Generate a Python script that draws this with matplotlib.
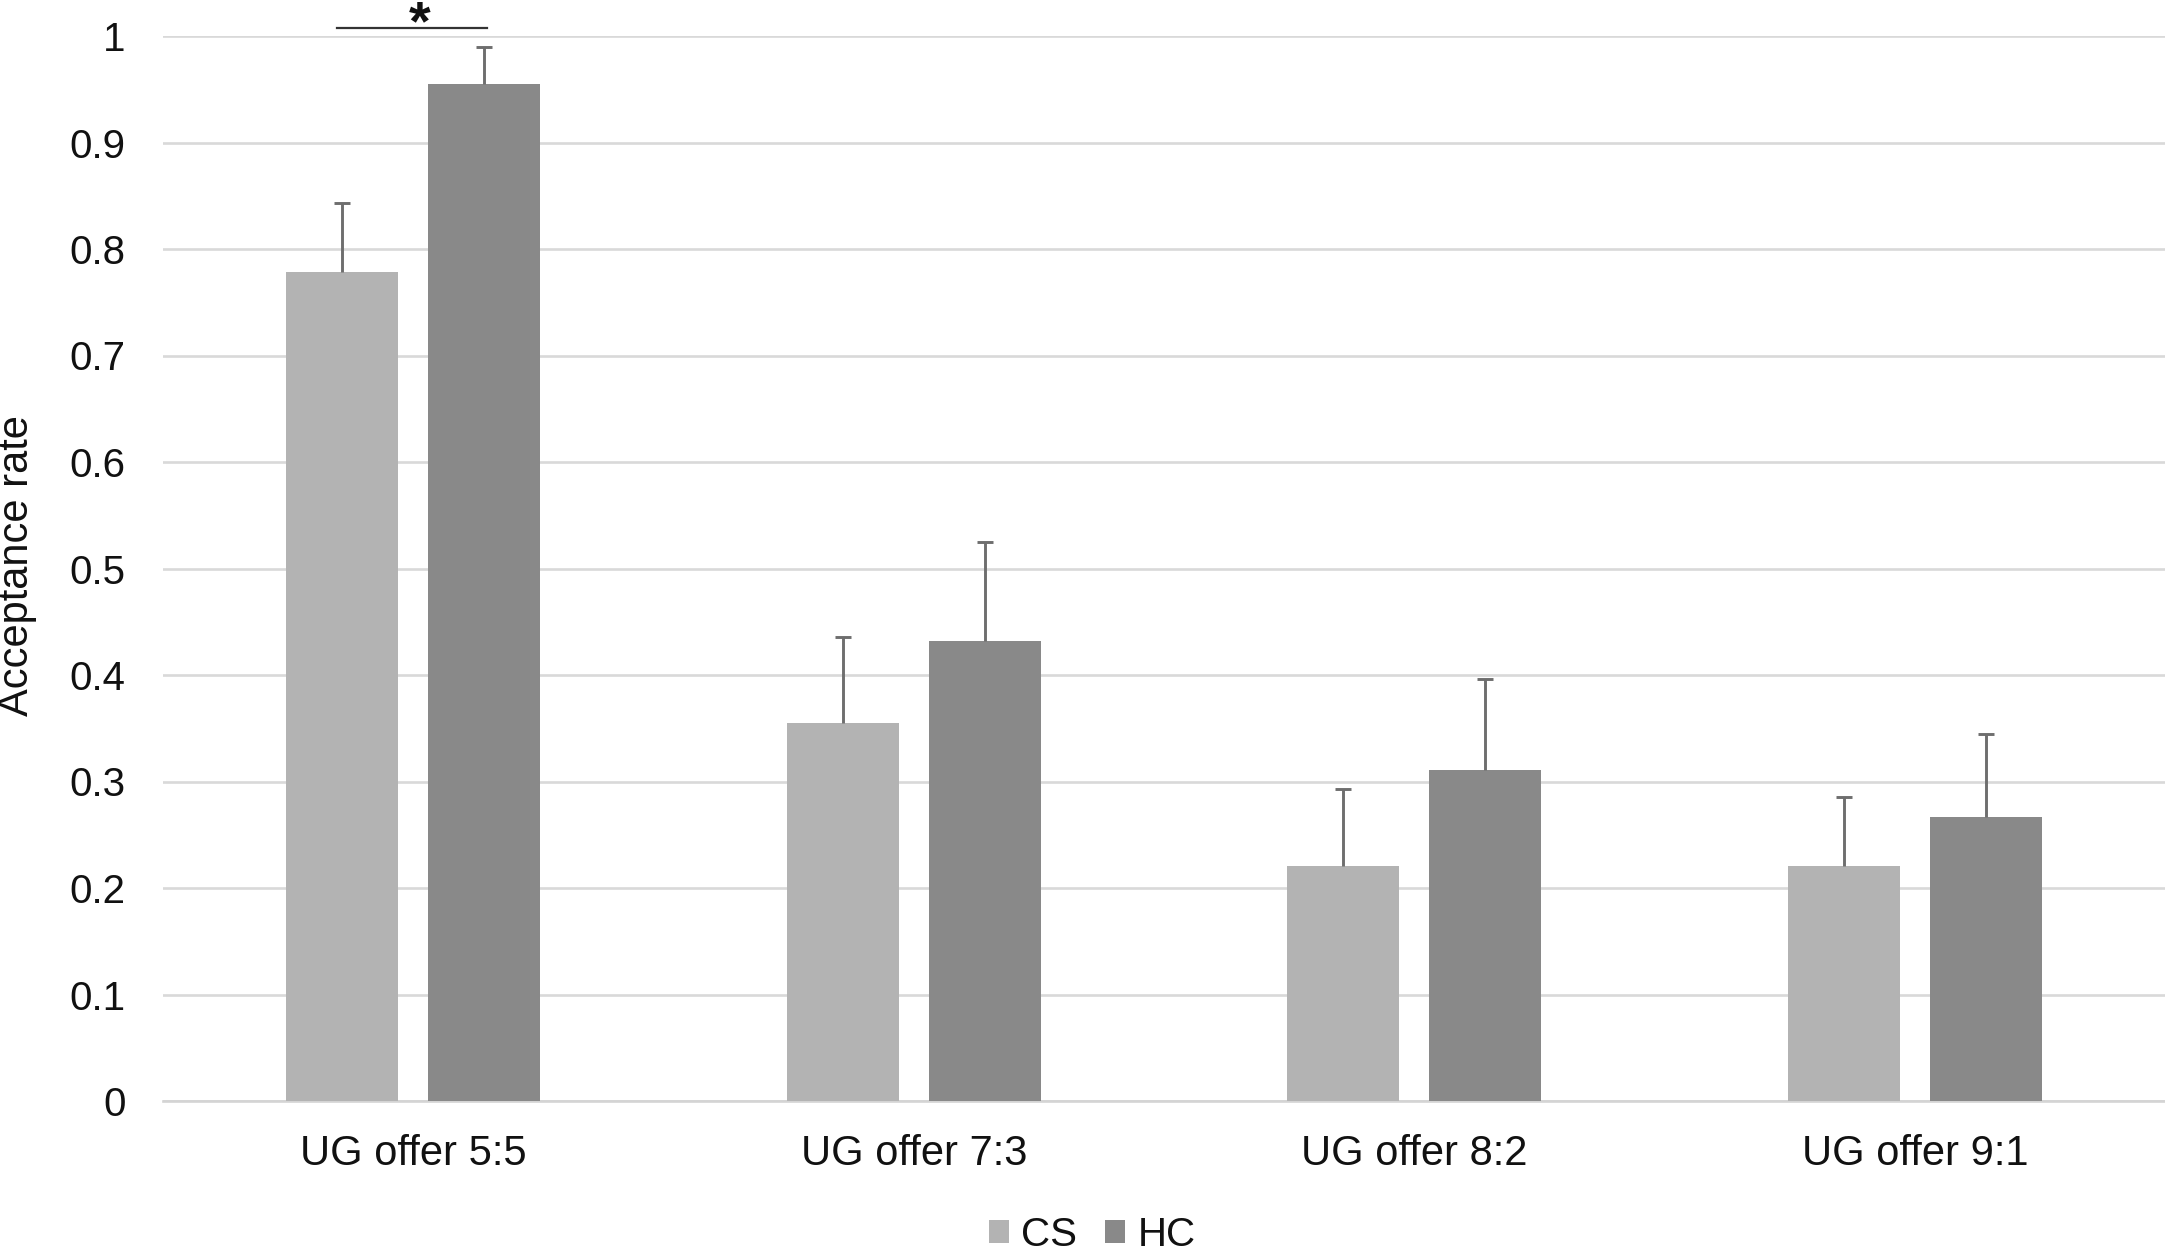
import numpy as np
import matplotlib
matplotlib.use("Agg")
import matplotlib.pyplot as plt

# data
categories = ["UG offer 5:5", "UG offer 7:3", "UG offer 8:2", "UG offer 9:1"]
groups = ["CS", "HC"]
cs_mean = [0.778, 0.355, 0.221, 0.221]
hc_mean = [0.955, 0.432, 0.311, 0.267]
cs_err = [0.065, 0.081, 0.072, 0.064]
hc_err = [0.035, 0.093, 0.085, 0.078]
y_ticks = [0, 0.1, 0.2, 0.3, 0.4, 0.5, 0.6, 0.7, 0.8, 0.9, 1]
y_tick_labels = ["0", "0.1", "0.2", "0.3", "0.4", "0.5", "0.6", "0.7", "0.8", "0.9", "1"]

plt.rcParams["font.family"] = ["Liberation Sans", "DejaVu Sans"]
FS = 29
TEXT = "#111111"

fig = plt.figure(figsize=(21.65, 12.52), dpi=100)
ax = fig.add_axes([163 / 2165, 1 - 1101 / 1252, 1 - 163 / 2165, (1101 - 36) / 1252])

x = np.arange(len(categories))
width = 0.224
offset = 0.142

ax.bar(x - offset, cs_mean, width, color="#b3b3b3", label=groups[0], zorder=3)
ax.bar(x + offset, hc_mean, width, color="#898989", label=groups[1], zorder=3)

# upper-only error bars (no cap at the bar top)
for pos, mean, err in [(x - offset, cs_mean, cs_err), (x + offset, hc_mean, hc_err)]:
    _, caps, _ = ax.errorbar(pos, mean, yerr=[np.zeros(len(err)), err], fmt="none",
                             ecolor="#6e6e6e", elinewidth=2.1, capsize=5.8,
                             capthick=2.1, zorder=4)
    caps[0].set_visible(False)

ax.set_xlim(-0.5, len(categories) - 0.5)
ax.set_ylim(0, 1)
ax.set_yticks(y_ticks)
ax.set_yticklabels(y_tick_labels)
ax.set_xticks(x)
ax.set_xticklabels(categories)
ax.tick_params(axis="y", length=0, pad=27, labelsize=FS, labelcolor=TEXT)
ax.tick_params(axis="x", length=0, pad=24, labelsize=30, labelcolor=TEXT)

ax.yaxis.grid(True, color="#d9d9d9", linewidth=1.9, zorder=0)
ax.set_axisbelow(True)
for side in ["top", "right", "left"]:
    ax.spines[side].set_visible(False)
ax.spines["bottom"].set_color("#d4d4d4")
ax.spines["bottom"].set_linewidth(1.9)

fig.text(17 / 2165, 1 - 566 / 1252, "Acceptance rate", rotation=90,
         ha="center", va="center", fontsize=30, color=TEXT)

# significance bracket over the 5:5 pair
ax.plot([x[0] - offset - 0.01, x[0] + offset + 0.005], [1.0075, 1.0075],
        color="#333333", linewidth=1.6, clip_on=False)
ax.text(x[0] + 0.012, 0.9965, "*", ha="center", va="baseline", fontsize=40,
        fontweight="bold", color=TEXT, clip_on=False)

fig.legend(loc="center", bbox_to_anchor=(1092 / 2165, 1 - 1235 / 1252),
           ncol=2, frameon=False, fontsize=FS, handlelength=0.5,
           handleheight=0.5, handletextpad=0.3, columnspacing=0.7,
           labelcolor=TEXT)

fig.savefig("out.png", dpi=100)
